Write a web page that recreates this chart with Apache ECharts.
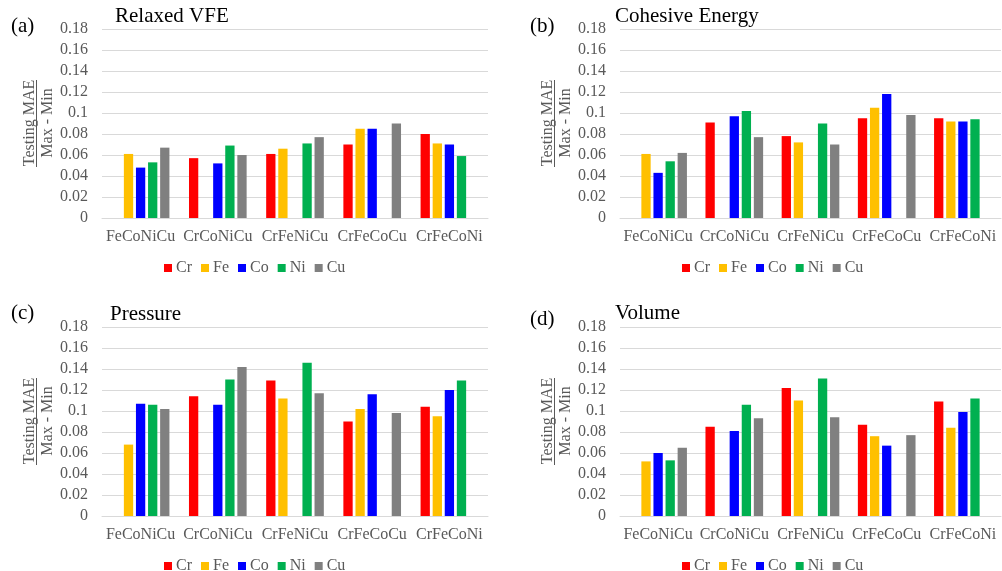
<!DOCTYPE html>
<html><head><meta charset="utf-8">
<script src="https://cdn.jsdelivr.net/npm/echarts@6/dist/echarts.min.js"></script>
<style>html,body{margin:0;padding:0;background:#fff}#c{width:1002px;height:571px}</style>
</head><body><div id="c"></div>
<script>
var categories = ['FeCoNiCu','CrCoNiCu','CrFeNiCu','CrFeCoCu','CrFeCoNi'];
var elements = ['Cr','Fe','Co','Ni','Cu'];
var colors = ['#FF0000','#FFC000','#0000FF','#00B050','#808080'];
var panelTitles = ['Relaxed VFE','Cohesive Energy','Pressure','Volume'];
var panelLetters = ['(a)','(b)','(c)','(d)'];
var yTicks = [0,0.02,0.04,0.06,0.08,0.1,0.12,0.14,0.16,0.18];

// values per element across categories (null = element absent)
var vfeCr = [null,0.057,0.061,0.070,0.080];
var vfeFe = [0.061,null,0.066,0.085,0.071];
var vfeCo = [0.048,0.052,null,0.085,0.070];
var vfeNi = [0.053,0.069,0.071,null,0.059];
var vfeCu = [0.067,0.060,0.077,0.090,null];

var cohCr = [null,0.091,0.078,0.095,0.095];
var cohFe = [0.061,null,0.072,0.105,0.092];
var cohCo = [0.043,0.097,null,0.118,0.092];
var cohNi = [0.054,0.102,0.090,null,0.094];
var cohCu = [0.062,0.077,0.070,0.098,null];

var preCr = [null,0.114,0.129,0.090,0.104];
var preFe = [0.068,null,0.112,0.102,0.095];
var preCo = [0.107,0.106,null,0.116,0.120];
var preNi = [0.106,0.130,0.146,null,0.129];
var preCu = [0.102,0.142,0.117,0.098,null];

var volCr = [null,0.085,0.122,0.087,0.109];
var volFe = [0.052,null,0.110,0.076,0.084];
var volCo = [0.060,0.081,null,0.067,0.099];
var volNi = [0.053,0.106,0.131,null,0.112];
var volCu = [0.065,0.093,0.094,0.077,null];

var panelData = [
  [vfeCr,vfeFe,vfeCo,vfeNi,vfeCu],
  [cohCr,cohFe,cohCo,cohNi,cohCu],
  [preCr,preFe,preCo,preNi,preCu],
  [volCr,volFe,volCo,volNi,volCu]
];

var layout = [
  {left:102, top:29, width:386, height:189, ox:0},
  {left:620, top:29, width:381, height:189, ox:518},
  {left:102, top:327, width:386, height:189, ox:0},
  {left:620, top:327, width:381, height:189, ox:518}
];
var serif = '"Liberation Serif","Times New Roman",serif';
var grey = '#595959';

var grids=[], xAxes=[], yAxes=[], series=[], legends=[], graphics=[];
layout.forEach(function(L,p){
  grids.push({left:L.left, top:L.top, width:L.width, height:L.height});
  xAxes.push({type:'category', gridIndex:p, data:categories,
    axisLine:{lineStyle:{color:'#d9d9d9'}}, axisTick:{show:false},
    axisLabel:{interval:0, color:grey, fontFamily:serif, fontSize:16, margin:11}});
  yAxes.push({type:'value', gridIndex:p, min:0, max:0.18, interval:0.02,
    axisLine:{show:false}, axisTick:{show:false},
    splitLine:{lineStyle:{color:'#d9d9d9'}},
    axisLabel:{color:grey, fontFamily:serif, fontSize:16, margin:14,
      formatter:function(v){return String(+(+v).toFixed(2));}}});
  elements.forEach(function(el,i){
    series.push({type:'bar', name:el, xAxisIndex:p, yAxisIndex:p,
      data:panelData[p][i], barWidth:9.3, barGap:'30%',
      itemStyle:{color:colors[i]}});
  });
  legends.push({data:elements, left:[159,677,159,677][p], top:[255,255,553,553][p], width:240,
    itemWidth:8, itemHeight:8, itemGap:9, icon:'rect',
    textStyle:{color:grey, fontFamily:serif, fontSize:16, padding:[0,0,0,-1]}});
  graphics.push({type:'text', left:[115,615,110,615][p], top:[6,6,304,303][p],
    style:{text:panelTitles[p], fill:'#000', font:'21px '+serif}});
  graphics.push({type:'text', left:[11,530,11,530][p], top:[16,16,303,309][p],
    style:{text:panelLetters[p], fill:'#000', font:'21px '+serif}});
  var cy = [123,123,421,421][p];
  var bx = L.ox;
  graphics.push({type:'text', x:bx+30, y:cy, rotation:Math.PI/2,
    style:{text:'Testing MAE', fill:grey, font:'16px '+serif, textAlign:'center', textVerticalAlign:'middle'}});
  graphics.push({type:'line', shape:{x1:bx+36.5, y1:cy-43, x2:bx+36.5, y2:cy+44},
    style:{stroke:grey, lineWidth:1}});
  graphics.push({type:'text', x:bx+48, y:cy, rotation:Math.PI/2,
    style:{text:'Max - Min', fill:grey, font:'16px '+serif, textAlign:'center', textVerticalAlign:'middle'}});
});

var chart = echarts.init(document.getElementById('c'), null, {renderer:'canvas'});
chart.setOption({
  animation:false,
  backgroundColor:'#fff',
  grid:grids, xAxis:xAxes, yAxis:yAxes, series:series, legend:legends,
  graphic:graphics
});
</script></body></html>
